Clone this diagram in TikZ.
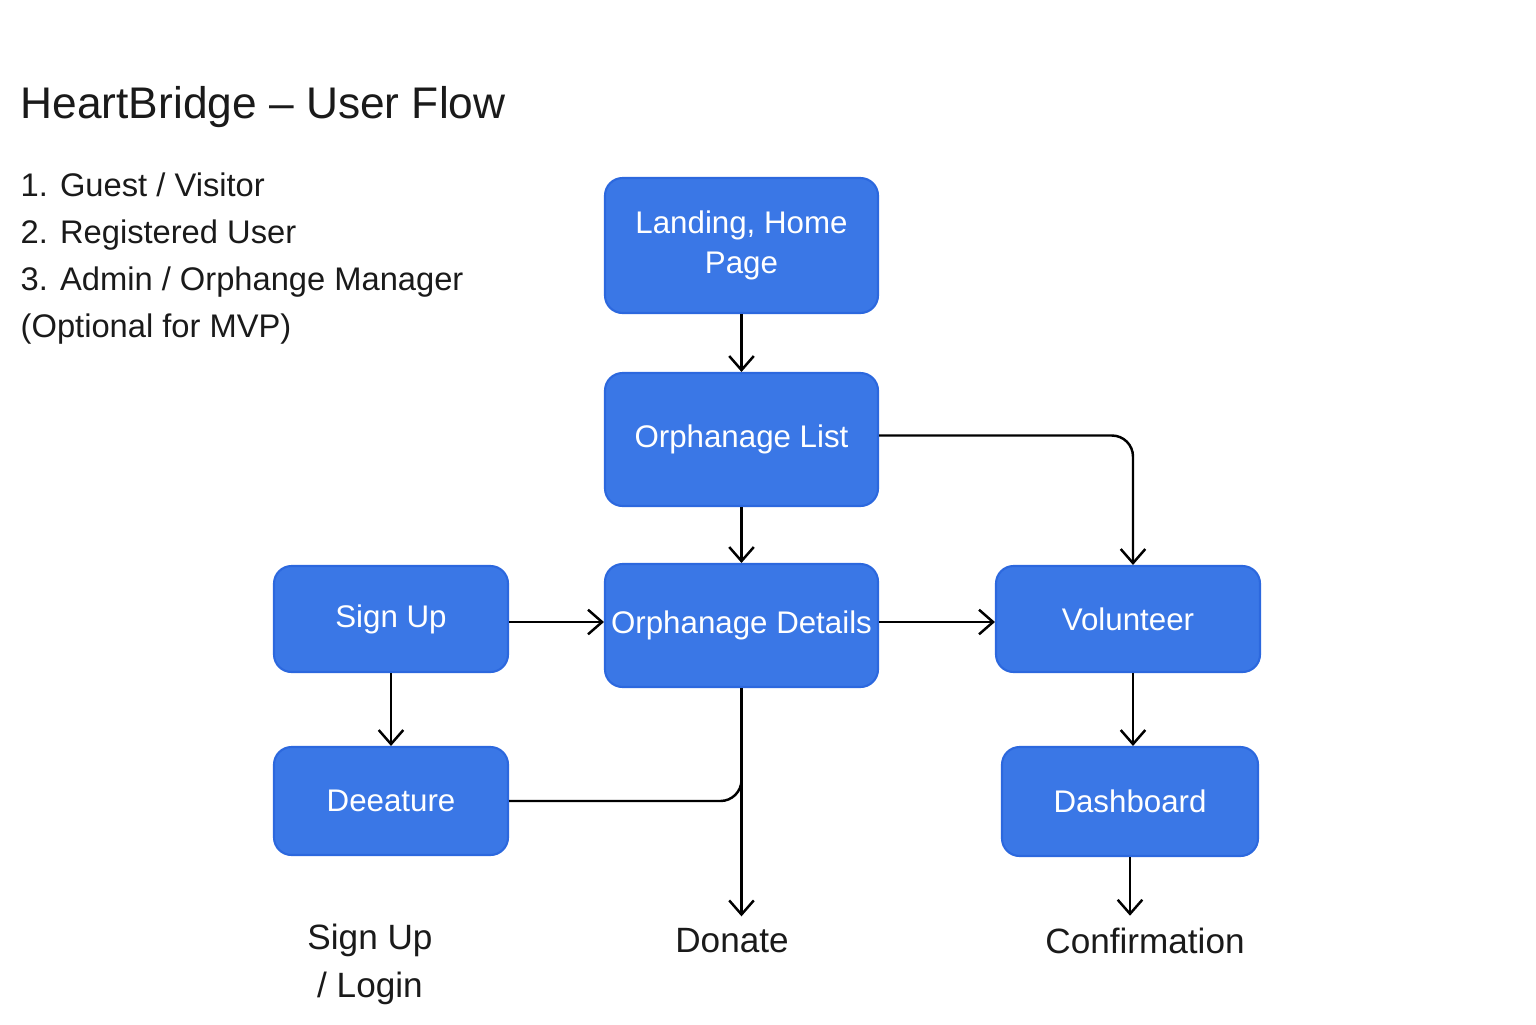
\documentclass[tikz,border=0pt]{standalone}
\usepackage{fontspec}
\setmainfont{Liberation Sans}
\usetikzlibrary{arrows.meta, positioning}
\definecolor{boxblue}{HTML}{3A77E6}
\definecolor{boxedge}{HTML}{2C68DE}
\definecolor{ink}{HTML}{1A1A1A}

\begin{document}
\begin{tikzpicture}[
  box/.style={draw=boxedge, fill=boxblue, rounded corners=5pt, text=white, align=center,
    font=\fontsize{8.9}{11.2}\selectfont, line width=0.6pt, inner sep=1pt},
  lbl/.style={font=\fontsize{10}{13.6}\selectfont, align=center, text=ink},
  flow/.style={->, line width=0.7pt},
  >={Straight Barb[length=4pt,width=7pt]}
]
  \useasboundingbox (0,0) rectangle (15.36,-10.24);

  % heading and roles
  \node[anchor=west, inner sep=0pt, text=ink, font=\fontsize{12.6}{15}\selectfont] (title) at (0.2,-1.07) {HeartBridge -- User Flow};
  \node[anchor=north west, inner sep=0pt, align=left, text=ink, font=\fontsize{9.3}{13.4}\selectfont] (roles) at (0.2,-1.72)
    {1. Guest / Visitor\\2. Registered User\\3. Admin / Orphange Manager\\(Optional for MVP)};

  % screens
  \node[box, minimum width=2.73cm, minimum height=1.35cm] (landing) at (7.415,-2.455) {Landing, Home\\Page};
  \node[box, minimum width=2.73cm, minimum height=1.33cm] (list) at (7.415,-4.395) {Orphanage List};
  \node[box, minimum width=2.73cm, minimum height=1.23cm] (details) at (7.415,-6.255) {Orphanage Details};
  \node[box, minimum width=2.34cm, minimum height=1.06cm] (signup) at (3.91,-6.19) {Sign Up};
  \node[box, minimum width=2.34cm, minimum height=1.08cm] (deeature) at (3.91,-8.01) {Deeature};
  \node[box, minimum width=2.64cm, minimum height=1.06cm] (volunteer) at (11.28,-6.19) {Volunteer};
  \node[box, minimum width=2.56cm, minimum height=1.09cm] (dashboard) at (11.30,-8.015) {Dashboard};

  % end points
  \node[lbl] (signlogin) at (3.70,-9.64) {Sign Up\\/ Login};
  \node[lbl] (donate) at (7.32,-9.41) {Donate};
  \node[lbl] (confirm) at (11.45,-9.41) {Confirmation};

  \draw[flow] (landing) -- (list);
  \draw[flow] (list) -- (details);
  \draw[flow, rounded corners=6pt] ([yshift=0.04cm]list.east) -| ([xshift=0.05cm]volunteer.north);
  \draw[flow] ([yshift=-0.03cm]signup.east) -- ([yshift=-0.03cm]signup.east -| details.west);
  \draw[flow] ([yshift=0.035cm]details.east) -- ([yshift=0.035cm]details.east -| volunteer.west);
  \draw[flow] (signup) -- (deeature);
  \draw[line width=0.7pt, rounded corners=6pt] (deeature.east) -| (details.south);
  \draw[flow] (details.south) -- (details.south |- donate.north);
  \draw[flow] ([xshift=0.05cm]volunteer.south) -- ([xshift=0.05cm]volunteer.south |- dashboard.north);
  \draw[flow] (dashboard.south) -- (dashboard.south |- confirm.north);
\end{tikzpicture}
\end{document}
